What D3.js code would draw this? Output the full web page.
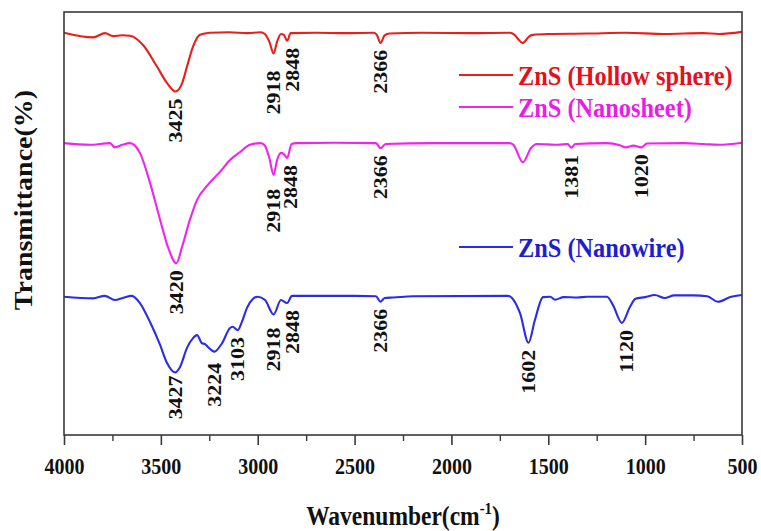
<!DOCTYPE html>
<html>
<head>
<meta charset="utf-8">
<script src="https://cdn.jsdelivr.net/npm/d3@7"></script>
<style>
  body { margin: 0; background: #fff; }
  text { font-family: "Liberation Serif", "Times New Roman", serif; font-weight: bold; }
</style>
</head>
<body>
<script>
// FTIR spectra, values ([wavenumber, transmittance a.u.])
const hollowSphere = [
  [4000, 95.1], [3850, 94.0], [3788, 95.0], [3747, 94.3], [3700, 94.5], [3660, 94.4],
  [3592, 92.2], [3520, 87.1], [3468, 83.2], [3425, 81.2], [3390, 83.2], [3365, 87.1],
  [3334, 91.8], [3298, 94.6], [3246, 95.1], [3150, 95.2], [3050, 95.0], [2988, 95.2],
  [2966, 94.9], [2940, 93.0], [2918, 90.2], [2900, 93.0], [2880, 94.8], [2865, 94.6],
  [2848, 93.2], [2830, 95.0], [2700, 95.1], [2550, 95.0], [2400, 95.1], [2385, 94.6],
  [2366, 92.7], [2345, 94.5], [2320, 94.9], [2150, 95.1], [1900, 95.0], [1700, 95.1],
  [1680, 94.8], [1631, 92.7], [1600, 94.2], [1580, 94.6], [1500, 94.8], [1300, 94.9],
  [1100, 95.1], [900, 94.8], [700, 95.0], [620, 94.8], [500, 95.3]
];
const nanosheet = [
  [4000, 69.0], [3866, 68.6], [3763, 69.0], [3737, 68.0], [3700, 68.6], [3660, 69.0],
  [3608, 66.7], [3556, 59.6], [3504, 50.9], [3463, 44.4], [3420, 40.6], [3391, 44.4],
  [3350, 50.9], [3313, 55.6], [3262, 58.9], [3195, 62.2], [3143, 65.0], [3091, 66.9],
  [3040, 68.6], [2988, 69.0], [2966, 68.6], [2940, 65.5], [2918, 61.5], [2900, 65.0],
  [2880, 66.7], [2865, 66.4], [2848, 65.5], [2825, 68.8], [2800, 69.0], [2600, 69.1],
  [2390, 69.0], [2366, 67.8], [2340, 68.8], [2100, 69.0], [1700, 69.0], [1680, 68.6],
  [1631, 64.5], [1590, 67.8], [1560, 68.8], [1450, 68.6], [1400, 68.8], [1381, 67.9],
  [1360, 68.8], [1200, 69.0], [1130, 68.5], [1100, 68.0], [1060, 68.4], [1020, 68.0],
  [990, 68.9], [800, 69.0], [700, 68.8], [620, 68.6], [500, 69.1]
];
const nanowire = [
  [4000, 32.7], [3850, 32.3], [3790, 32.9], [3737, 31.9], [3695, 32.4], [3650, 32.9],
  [3608, 31.2], [3556, 26.7], [3504, 21.3], [3468, 17.0], [3427, 14.8], [3401, 16.1],
  [3365, 20.6], [3334, 22.9], [3313, 23.6], [3288, 21.7], [3272, 21.5], [3257, 20.8],
  [3224, 19.7], [3184, 21.7], [3143, 25.3], [3130, 25.6], [3103, 24.8], [3081, 26.8],
  [3056, 30.0], [3024, 32.2], [3000, 32.7], [2962, 31.9], [2918, 28.5], [2880, 31.9],
  [2848, 31.2], [2823, 32.9], [2500, 32.9], [2390, 32.8], [2366, 31.5], [2345, 32.4],
  [2300, 32.5], [2200, 32.8], [1708, 32.9], [1646, 28.8], [1602, 21.8], [1569, 27.2],
  [1527, 32.6], [1490, 32.7], [1465, 32.0], [1420, 32.6], [1350, 32.5], [1300, 32.7],
  [1197, 32.7], [1166, 30.7], [1120, 26.5], [1078, 30.3], [1050, 32.2], [1000, 32.6],
  [950, 33.1], [900, 32.4], [850, 33.0], [750, 33.0], [680, 32.8], [624, 31.5],
  [560, 32.6], [500, 33.1]
];

const seriesNames = ["ZnS (Hollow sphere)", "ZnS (Nanosheet)", "ZnS (Nanowire)"];
const hollowPeaks = [3425, 2918, 2848, 2366];
const sheetPeaks = [3420, 2918, 2848, 2366, 1381, 1020];
const wirePeaks = [3427, 3224, 3103, 2918, 2848, 2366, 1602, 1120];
const xTicks = [4000, 3500, 3000, 2500, 2000, 1500, 1000, 500];
const xMinorTicks = [3750, 3250, 2750, 2250, 1750, 1250, 750];

const W = 761, H = 531;
const m = {left: 64, right: 19, top: 12, bottom: 96};
const SX = 0.87; // picture is slightly squeezed sideways

const svg = d3.select("body").append("svg")
  .attr("width", W)
  .attr("height", H);

const x = d3.scaleLinear().domain([4000, 500]).range([m.left, W - m.right]);
const y = d3.scaleLinear().domain([0, 100]).range([H - m.bottom, m.top]);

const series = [
  {name: seriesNames[0], data: hollowSphere, peaks: hollowPeaks, color: "#e8201c", text: "#e3121a", key: "h"},
  {name: seriesNames[1], data: nanosheet, peaks: sheetPeaks, color: "#f024ee", text: "#e81ee6", key: "s"},
  {name: seriesNames[2], data: nanowire, peaks: wirePeaks, color: "#2b2be8", text: "#1d1dd2", key: "w"}
];

const line = d3.line()
  .x(d => x(d[0]))
  .y(d => y(d[1]))
  .curve(d3.curveMonotoneX);

svg.append("g").selectAll("path")
  .data(series)
  .enter().append("path")
  .attr("d", d => line(d.data))
  .attr("fill", "none")
  .attr("stroke", d => d.color)
  .attr("stroke-width", 2.1);

// frame
svg.append("rect")
  .attr("x", m.left).attr("y", m.top)
  .attr("width", W - m.left - m.right)
  .attr("height", H - m.top - m.bottom)
  .attr("fill", "none")
  .attr("stroke", "#3a3a3a")
  .attr("stroke-width", 1.6);

// bottom axis
const xAxis = svg.append("g")
  .attr("transform", `translate(0,${H - m.bottom})`)
  .call(d3.axisBottom(x).tickValues(xTicks).tickSize(10).tickPadding(13).tickFormat(d3.format("d")));
xAxis.select(".domain").remove();
xAxis.selectAll("line").attr("stroke", "#3a3a3a").attr("stroke-width", 1.6);
xAxis.selectAll("text")
  .attr("font-size", 23)
  .attr("fill", "#111")
  .attr("transform", `scale(${SX},1)`);

const xMinor = svg.append("g")
  .attr("transform", `translate(0,${H - m.bottom})`)
  .call(d3.axisBottom(x).tickValues(xMinorTicks).tickSize(6).tickFormat(""));
xMinor.select(".domain").remove();
xMinor.selectAll("line").attr("stroke", "#3a3a3a").attr("stroke-width", 1.4);

// peak labels
const nudge = {"h2918": [0, 10], "h2848": [5, 0], "s2918": [0, 7], "s2848": [3, 0],
               "w3427": [0, -4], "w3224": [0, 4], "w2918": [0, 6], "w2848": [5, 0], "w1120": [4, 0]};
const labels = [];
series.forEach(s => {
  s.peaks.forEach(p => {
    const near = s.data.filter(d => Math.abs(d[0] - p) <= 15);
    const low = d3.min(near, d => d[1]);
    const n = nudge[s.key + p] || [0, 0];
    labels.push({wn: p, x: x(p) + n[0], top: y(low) + 7 + n[1]});
  });
});
svg.append("g").selectAll("text")
  .data(labels)
  .enter().append("text")
  .attr("transform", d => `translate(${d.x},${d.top}) scale(${SX},1) rotate(-90)`)
  .attr("text-anchor", "end")
  .attr("dy", "0.35em")
  .attr("font-size", 22)
  .attr("fill", "#111")
  .text(d => d.wn);

// legend
const legY = [75, 107, 247];
const leg = svg.append("g").selectAll("g")
  .data(series)
  .enter().append("g")
  .attr("transform", (d, i) => `translate(459,${legY[i]})`);
leg.append("line")
  .attr("x1", 0).attr("x2", 54)
  .attr("stroke", d => d.color)
  .attr("stroke-width", 2);
leg.append("text")
  .attr("transform", `translate(59,0) scale(${SX},1)`)
  .attr("dy", "0.36em")
  .attr("font-size", 28)
  .attr("fill", d => d.text)
  .text(d => d.name);

// axis titles
const xt = svg.append("text")
  .attr("transform", `translate(${(m.left + W - m.right) / 2},525) scale(${SX},1)`)
  .attr("text-anchor", "middle")
  .attr("font-size", 27)
  .attr("fill", "#111");
xt.append("tspan").text("Wavenumber(cm");
xt.append("tspan").attr("font-size", 17).attr("dy", -11).text("-1");
xt.append("tspan").attr("dy", 11).text(")");

svg.append("text")
  .attr("transform", `translate(23,200) scale(${SX},1) rotate(-90)`)
  .attr("text-anchor", "middle")
  .attr("dy", "0.35em")
  .attr("font-size", 28)
  .attr("fill", "#111")
  .text("Transmittance(%)");
</script>
</body>
</html>
